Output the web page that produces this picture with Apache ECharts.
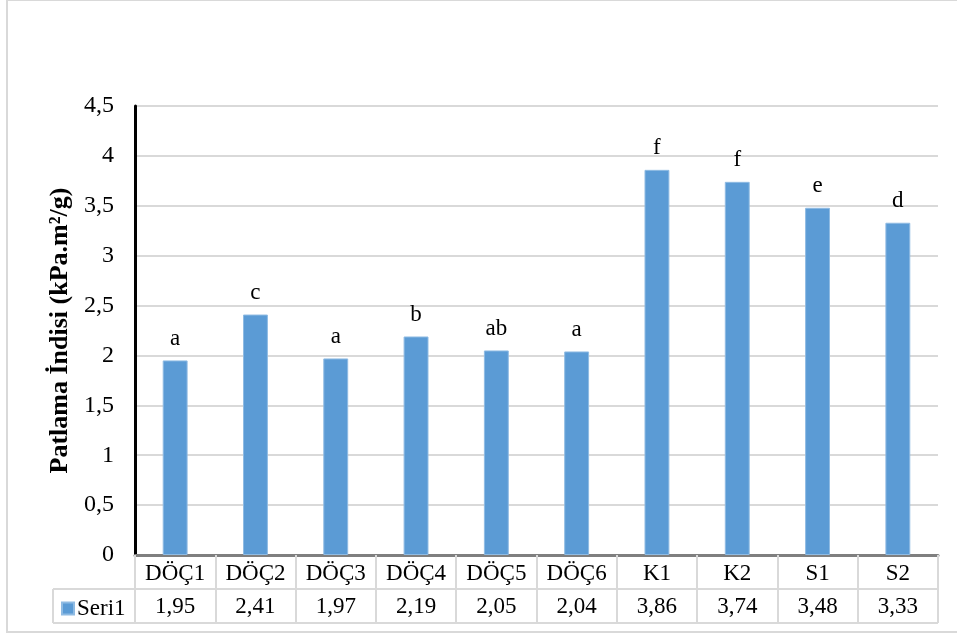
<!DOCTYPE html>
<html><head><meta charset="utf-8">
<script src="https://cdn.jsdelivr.net/npm/echarts@6/dist/echarts.min.js"></script>
<style>html,body{margin:0;padding:0;background:#fff}#c{width:957px;height:635px}</style>
</head><body><div id="c"></div>
<script>
const categories = ['DÖÇ1','DÖÇ2','DÖÇ3','DÖÇ4','DÖÇ5','DÖÇ6','K1','K2','S1','S2'];
const values = [1.95, 2.41, 1.97, 2.19, 2.05, 2.04, 3.86, 3.74, 3.48, 3.33];
const letters = ['a','c','a','b','ab','a','f','f','e','d'];
const seriesName = 'Seri1';
const yTicks = {min: 0, max: 4.5, interval: 0.5};
const yTitle = 'Patlama İndisi (kPa.m²/g)';

const FONT = '"Liberation Serif","Times New Roman",serif';
const fmt = v => String(v).replace('.', ',');
const chart = echarts.init(document.getElementById('c'));
const option = {
  animation: false,
  backgroundColor: '#fff',
  grid: {left: 135, right: 19, top: 106, bottom: 80, containLabel: false},
  legend: {
    show: true, left: 56, top: 592, itemWidth: 12, itemHeight: 12, itemGap: 4,
    icon: 'rect', data: [seriesName],
    textStyle: {fontFamily: FONT, fontSize: 23, color: '#000', padding: [0,0,0,-2]}
  },
  xAxis: {
    type: 'category', data: categories,
    axisLine: {show: true, lineStyle: {color: '#7f7f7f', width: 3}},
    axisTick: {show: true, length: 68, lineStyle: {color: '#d9d9d9', width: 2}},
    axisLabel: {
      interval: 0, margin: 2,
      formatter: (v, i) => '{n|' + v + '}\n{v|' + fmt(values[i]) + '}',
      rich: {
        n: {fontFamily: FONT, fontSize: 23, color: '#000', lineHeight: 33, height: 33, verticalAlign: 'middle'},
        v: {fontFamily: FONT, fontSize: 23, color: '#000', lineHeight: 34, height: 34, verticalAlign: 'middle'}
      }
    },
    splitLine: {show: false}
  },
  yAxis: {
    type: 'value', min: yTicks.min, max: yTicks.max, interval: yTicks.interval,
    name: yTitle, nameLocation: 'middle', nameRotate: 90, nameGap: 62,
    nameTextStyle: {fontFamily: FONT, fontSize: 26, fontWeight: 'bold', color: '#000'},
    axisLine: {show: true, lineStyle: {color: '#000', width: 3}},
    axisTick: {show: false},
    axisLabel: {fontFamily: FONT, fontSize: 24, color: '#000', margin: 21, formatter: v => fmt(v)},
    splitLine: {show: true, lineStyle: {color: '#d9d9d9', width: 2}}
  },
  series: [{
    name: seriesName, type: 'bar', data: values, barWidth: '31%',
    itemStyle: {color: '#5b9bd5', borderColor: '#8fbbe3', borderWidth: 1},
    label: {
      show: true, position: 'top', distance: 10,
      formatter: p => letters[p.dataIndex],
      fontFamily: FONT, fontSize: 23, color: '#000'
    }
  }]
};
chart.setOption(option);

// table lines derived from the axes
const xs = categories.map(c => chart.convertToPixel({xAxisIndex: 0}, c));
const band = xs[1] - xs[0];
const xL = xs[0] - band / 2, xR = xs[xs.length - 1] + band / 2;
const y0 = chart.convertToPixel({yAxisIndex: 0}, 0);
const r1 = y0 + 34, r2 = y0 + 68;
const legL = 53;
const ls = {stroke: '#d9d9d9', lineWidth: 2};
chart.setOption({
  graphic: [
    {type: 'line', shape: {x1: legL, y1: r1, x2: xR, y2: r1}, style: ls, z: 1},
    {type: 'line', shape: {x1: legL, y1: r2, x2: xR, y2: r2}, style: ls, z: 1},
    {type: 'line', shape: {x1: legL, y1: r1, x2: legL, y2: r2}, style: ls, z: 1},
    {type: 'rect', shape: {x: 7, y: 0, width: 960, height: 632}, style: {fill: 'none', stroke: '#d9d9d9', lineWidth: 2}, z: 0}
  ]
});
</script></body></html>
